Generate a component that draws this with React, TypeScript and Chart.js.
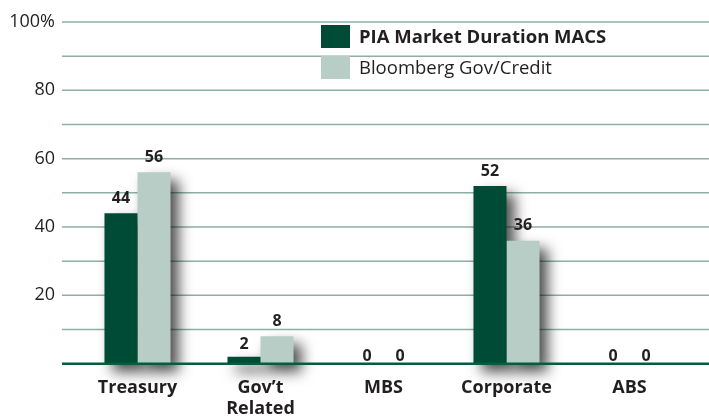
import React, { useEffect, useRef } from 'react';
import { Chart, registerables } from 'chart.js';

Chart.register(...registerables);

const categories = ['Treasury', 'Gov’t\nRelated', 'MBS', 'Corporate', 'ABS'];
const seriesNames = ['PIA Market Duration MACS', 'Bloomberg Gov/Credit'];
const piaValues = [44, 2, 0, 52, 0];
const bloombergValues = [56, 8, 0, 36, 0];
const yLabelTicks = [20, 40, 60, 80, 100];
const seriesColors = ['#004b35', '#b8cdc5'];

const FONT = '"Open Sans", "Noto Sans", sans-serif';
const TEXT = '#231f20';

const decorPlugin = {
  id: 'decor',
  beforeDatasetsDraw(chart: any) {
    const ctx = chart.ctx as CanvasRenderingContext2D;
    const ys = chart.scales.y;
    const right = chart.width;
    ctx.save();
    ctx.strokeStyle = '#8db0a2';
    ctx.lineWidth = 1.5;
    for (let v = 10; v <= 100; v += 10) {
      const py = ys.getPixelForValue(v);
      ctx.beginPath();
      ctx.moveTo(62, py);
      ctx.lineTo(right, py);
      ctx.stroke();
    }
    ctx.restore();
    // shadows only (shape pushed off-canvas)
    ctx.save();
    const OFF = 10000;
    ctx.shadowColor = 'rgba(0,0,0,0.7)';
    ctx.shadowBlur = 14;
    ctx.shadowOffsetX = OFF + 8;
    ctx.shadowOffsetY = 8;
    ctx.fillStyle = '#000';
    chart.data.datasets.forEach((_ds: any, i: number) => {
      const meta = chart.getDatasetMeta(i);
      meta.data.forEach((el: any) => {
        const p = el.getProps(['x', 'y', 'base', 'width'], true);
        const h = p.base - p.y;
        if (h < 0.5) return;
        ctx.fillRect(p.x - p.width / 2 - OFF, p.y, p.width, h);
      });
    });
    ctx.restore();
  },
  afterDatasetsDraw(chart: any) {
    const ctx = chart.ctx as CanvasRenderingContext2D;
    const ys = chart.scales.y;
    const y0 = ys.getPixelForValue(0);
    ctx.save();
    ctx.strokeStyle = '#0b5a40';
    ctx.lineWidth = 2.5;
    ctx.beginPath();
    ctx.moveTo(62, y0);
    ctx.lineTo(chart.width, y0);
    ctx.stroke();

    ctx.fillStyle = TEXT;
    ctx.font = `bold 16px ${FONT}`;
    ctx.textAlign = 'center';
    ctx.textBaseline = 'middle';
    chart.data.datasets.forEach((ds: any, i: number) => {
      const meta = chart.getDatasetMeta(i);
      meta.data.forEach((el: any, j: number) => {
        const v = ds.data[j];
        const p = el.getProps(['x', 'y'], true);
        const off = v === 0 ? 7 : v < 5 ? 12 : 15;
        ctx.fillText(String(v), p.x, p.y - off);
      });
    });
    ctx.restore();
  },
};

export default function App() {
  const ref = useRef<HTMLCanvasElement | null>(null);

  useEffect(() => {
    if (!ref.current) return;
    const chart = new Chart(ref.current, {
      type: 'bar',
      data: {
        labels: categories.map((c) => c.split('\n')),
        datasets: [
          {
            label: seriesNames[0],
            data: piaValues,
            backgroundColor: seriesColors[0],
            categoryPercentage: 0.537,
            barPercentage: 1,
            clip: false as any,
          },
          {
            label: seriesNames[1],
            data: bloombergValues,
            backgroundColor: seriesColors[1],
            categoryPercentage: 0.537,
            barPercentage: 1,
            clip: false as any,
          },
        ],
      },
      options: {
        responsive: false,
        animation: false,
        devicePixelRatio: 1,
        layout: { padding: { top: 22, right: 18, left: 0, bottom: 0 } },
        plugins: { legend: { display: false }, tooltip: { enabled: false } },
        scales: {
          x: {
            grid: { display: false, drawTicks: false },
            border: { display: false },
            ticks: {
              color: TEXT,
              font: { family: FONT, size: 18, weight: 'bold', lineHeight: 1.2 },
              padding: 13,
              maxRotation: 0,
              autoSkip: false,
            },
            afterFit(s: any) {
              s.height = 55.3;
            },
          },
          y: {
            min: 0,
            max: 100,
            grid: { display: false, drawTicks: false },
            border: { display: false },
            ticks: {
              stepSize: 10,
              autoSkip: false,
              color: TEXT,
              font: { family: FONT, size: 18 },
              padding: 21,
              callback: (v: any) =>
                yLabelTicks.includes(Number(v)) ? (Number(v) === 100 ? '100%' : String(v)) : '',
            },
            afterFit(s: any) {
              s.width = 76;
              s.paddingTop = 0;
              s.paddingBottom = 0;
            },
          },
        },
      },
      plugins: [decorPlugin],
    });
    return () => chart.destroy();
  }, []);

  return (
    <div style={{ position: 'absolute', left: 0, top: 0, width: 709, height: 419, background: '#fff' }}>
      <canvas ref={ref} width={709} height={419} style={{ width: 709, height: 419, display: 'block' }} />
      {seriesNames.map((name, i) => (
        <div
          key={name}
          style={{
            position: 'absolute',
            left: 321,
            top: i === 0 ? 25 : 56,
            height: 23,
            display: 'flex',
            alignItems: 'center',
            whiteSpace: 'nowrap',
          }}
        >
          <div style={{ width: 29, height: 23, background: seriesColors[i], flex: 'none' }} />
          <span
            style={{
              marginLeft: 9,
              fontFamily: FONT,
              fontSize: 18.5,
              fontWeight: i === 0 ? 700 : 400,
              color: TEXT,
              lineHeight: 1,
            }}
          >
            {name}
          </span>
        </div>
      ))}
    </div>
  );
}
